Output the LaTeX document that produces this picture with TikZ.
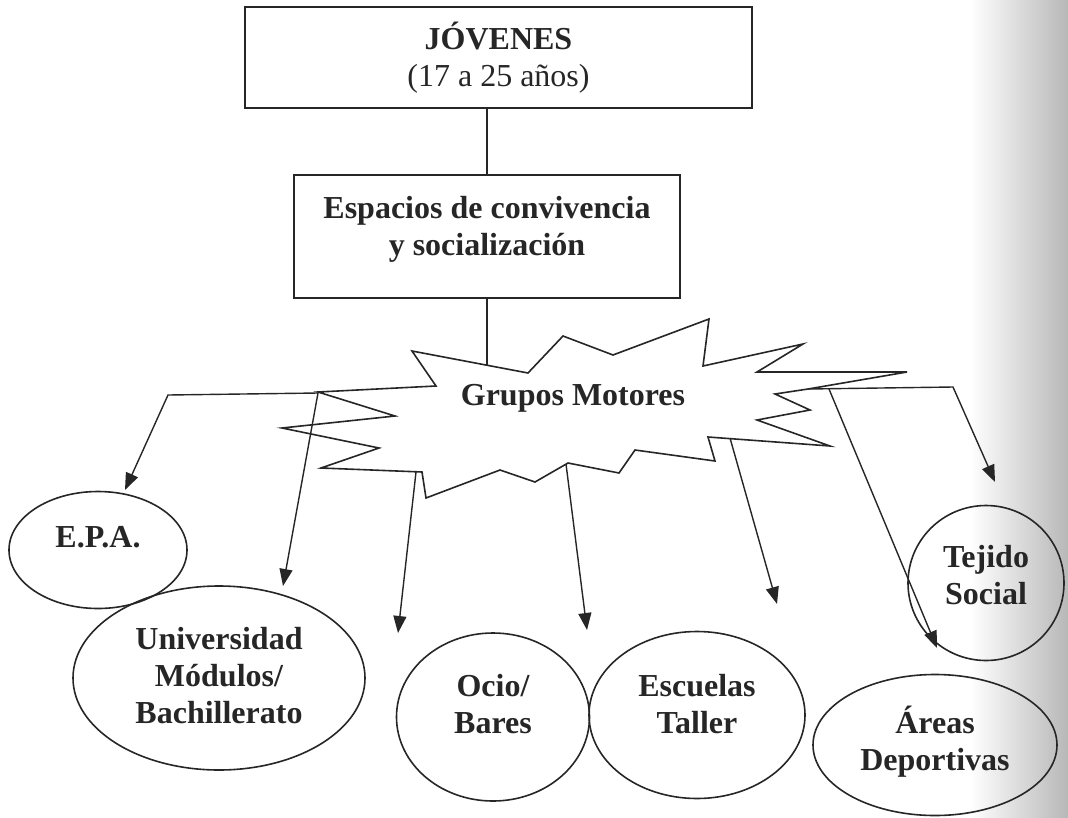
\documentclass[tikz,border=0pt]{standalone}
\usepackage{fontspec}
\setmainfont{Liberation Serif}
\usetikzlibrary{arrows.meta,shapes.geometric}

\begin{document}
\begin{tikzpicture}[x=1pt, y=-1pt, thick,
        ink/.style = {draw=black!85, line width=1.6pt},
        box/.style = {ink, rectangle, align=center, text=black!85, font=\fontsize{32}{37}\selectfont},
        oval/.style = {ink, ellipse, inner sep=0pt},
        word/.style = {align=center, text=black!85, font=\bfseries\fontsize{32}{37}\selectfont},
        arrow/.style = {draw=black!85, line width=1.4pt, -{Triangle[length=17pt,width=13pt]}}]
        \useasboundingbox (0,0) rectangle (1068,817);
        \shade[left color=white, right color=black!28] (970,0) rectangle (1068,817);

        \node[box, minimum width=507pt, minimum height=101pt] (jovenes) at (498.5,57.5) {\textbf{JÓVENES}\\(17 a 25 años)};
        \node[box, minimum width=386pt, minimum height=123pt] (espacios) at (487,236.5) {};
        \node[word] (espaciostxt) at (487,229) {Espacios de convivencia\\y socialización};

        % estrella
        \draw[ink] (412,351) -- (528,373) -- (563,336) -- (613,355) -- (709,319) -- (703,366)
            -- (803,344) -- (757,372) -- (907,372) -- (808,389) -- (775,394) -- (810,410)
            -- (757,420) -- (830,446) -- (708,437) -- (715,461) -- (635,450) -- (619,473)
            -- (568,463) -- (535,482) -- (500,470) -- (426,498) -- (422,472) -- (321,468)
            -- (379,448) -- (282,428) -- (395,416) -- (318,392) -- (436,386) -- cycle;
        \node[word] (grupos) at (573,398) {Grupos Motores};
        \coordinate (top) at (487,365);

        \node[oval, minimum width=178pt, minimum height=117pt] (epa) at (98,550) {};
        \node[word] (epatxt) at (98,537) {E.P.A.};
        \node[oval, minimum width=292pt, minimum height=184pt] (uni) at (219,678) {};
        \node[word] (unitxt) at (219,676) {Universidad\\Módulos/\\Bachillerato};
        \node[oval, minimum width=193pt, minimum height=168pt] (ocio) at (493,717) {};
        \node[word] (ociotxt) at (493,704) {Ocio/\\Bares};
        \node[oval, minimum width=216pt, minimum height=167pt] (escuelas) at (697,715) {};
        \node[word] (escuelastxt) at (697,704) {Escuelas\\Taller};
        \node[oval, minimum width=156pt, minimum height=155pt] (tejido) at (986,583) {};
        \node[word] (tejidotxt) at (986,575) {Tejido\\Social};
        \node[oval, minimum width=244pt, minimum height=141pt] (areas) at (935,745) {};
        \node[word] (areastxt) at (935,742) {Áreas\\Deportivas};

        \coordinate (s1) at (318,393);
        \coordinate (c1) at (168,395);
        \coordinate (t1) at (125,490);
        \coordinate (t2) at (283,586);
        \coordinate (s3) at (416,472);
        \coordinate (t3) at (398,633);
        \coordinate (s4) at (566,464);
        \coordinate (t4) at (587,630);
        \coordinate (s5) at (730,438);
        \coordinate (t5) at (777,604);
        \coordinate (s6) at (808,389);
        \coordinate (c6) at (953,387);
        \coordinate (t6) at (995,482);
        \coordinate (s7) at (829,389);
        \coordinate (t7) at (937,648);

        \draw[ink, line width=1.3pt] (jovenes.south -| espacios.north) -- (espacios.north);
        \draw[ink, line width=1.3pt] (espacios.south) -- (top);
        \draw[arrow] (s1) -- (c1) -- (t1);
        \draw[arrow] (s1) -- (t2);
        \draw[arrow] (s3) -- (t3);
        \draw[arrow] (s4) -- (t4);
        \draw[arrow] (s5) -- (t5);
        \draw[arrow] (s6) -- (c6) -- (t6);
        \draw[arrow] (s7) -- (t7);
    \end{tikzpicture}
\end{document}
